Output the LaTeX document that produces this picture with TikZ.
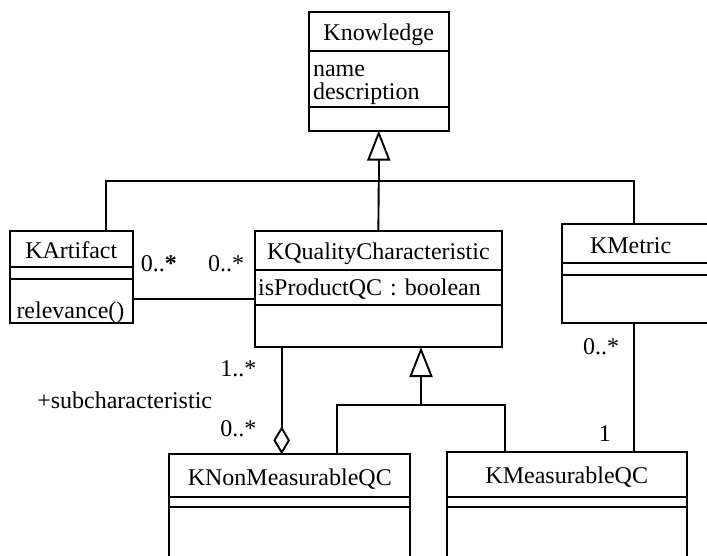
\documentclass[tikz,border=0pt]{standalone}
\usepackage{fontspec}
\setmainfont{Liberation Serif}
\usetikzlibrary{positioning,arrows.meta}

\begin{document}
\begin{tikzpicture}[x=1pt, y=-1pt, font=\fontsize{24}{23.3}\selectfont,
                    line width=1.9pt]
\tikzstyle{cname}=[draw, line width=2pt, outer sep=0pt, inner sep=0pt,
                   text height=19pt, text depth=0pt]
\tikzstyle{cpart}=[draw, line width=2pt, outer sep=0pt, inner sep=0pt]
% compartiment avec du texte aligne a gauche
\tikzstyle{cattr}=[cpart, align=left, text height=15pt, text depth=0pt]
\tikzstyle{mult}=[inner sep=0pt]
\tikzstyle{gen}=[-{Triangle[open, length=30pt, width=23pt]}]
\tikzstyle{agg}=[-{Diamond[open, length=28pt, width=16.6pt]}]

\useasboundingbox (0,0) rectangle (707,555);
\clip (0,0) rectangle (707,555);

% classes
\node[cname, anchor=north west, minimum width=140.5pt, minimum height=38.7pt]
    (know) at (308.5,12) {Knowledge};
\node[cattr, below=0pt of know, minimum height=56.6pt, text width=131.5pt,
      inner xsep=4.5pt, text height=18pt, text depth=24pt]
    (knowattr) {name\\description};
\node[cpart, below=0pt of knowattr, minimum width=140.5pt, minimum height=23.2pt]
    (knowops) {};

\node[cname, anchor=north west, minimum width=122.5pt, minimum height=36.2pt]
    (kart) at (10,230.5) {KArtifact};
\node[cpart, below=0pt of kart, minimum width=122.5pt, minimum height=12.3pt]
    (kartattr) {};
\node[cattr, below=0pt of kartattr, minimum height=44.3pt, text width=109.5pt,
      inner xsep=6.5pt, text height=34pt]
    (kartops) {relevance()};

\node[cname, anchor=north west, minimum width=247.3pt, minimum height=39.3pt]
    (kqc) at (254.7,230.7) {KQualityCharacteristic};
\node[cattr, below=0pt of kqc, minimum height=35pt, text width=240.3pt,
      inner xsep=3.5pt]
    (kqcattr) {isProductQC : boolean};
\node[cpart, below=0pt of kqcattr, minimum width=247.3pt, minimum height=42pt]
    (kqcops) {};

\node[cname, anchor=north west, minimum height=39.2pt, text width=144.6pt,
      inner xsep=27.7pt, align=left, text height=21pt]
    (kmet) at (562.3,223.5) {KMetric};
\node[cpart, below=0pt of kmet, minimum width=200pt, minimum height=12.3pt]
    (kmetattr) {};
\node[cpart, below=0pt of kmetattr, minimum width=200pt, minimum height=47.7pt]
    (kmetops) {};

\node[cname, anchor=north west, minimum width=241pt, minimum height=43pt]
    (knm) at (169.3,454.3) {KNonMeasurableQC};
\node[cpart, below=0pt of knm, minimum width=241pt, minimum height=9.7pt]
    (knmattr) {};
\node[cpart, below=0pt of knmattr, minimum width=241pt, minimum height=60pt]
    (knmops) {};

\node[cname, anchor=north west, minimum width=240.5pt, minimum height=45pt]
    (kms) at (446.5,451.7) {KMeasurableQC};
\node[cpart, below=0pt of kms, minimum width=240.5pt, minimum height=10pt]
    (kmsattr) {};
\node[cpart, below=0pt of kmsattr, minimum width=240.5pt, minimum height=60pt]
    (kmsops) {};

% heritage
\coordinate (gk) at ([yshift=-50.5pt]knowops.south);
\draw[gen] (gk) -- (knowops.south);
\draw (gk) -| ([xshift=34.45pt]kart.north);
\draw (gk) -- (kqc.north);
\draw (gk) -| ([xshift=-28.3pt]kmet.north);

\coordinate (gq) at ([xshift=166.3pt, yshift=-58pt]kqcops.south west);
\draw[gen] (gq) -- (gq |- kqcops.south);
\draw (gq) -| ([xshift=46.9pt]knm.north);
\draw (gq) -| ([xshift=-61.75pt]kms.north);

% associations
\coordinate (ak) at ([yshift=1.8pt]kartops.east);
\draw (ak) -- (ak -| kqcattr.west)
    node[mult, pos=0, anchor=west, xshift=7.5pt, yshift=35.7pt] {0..\textbf{*}}
    node[mult, pos=1, anchor=east, xshift=-9.7pt, yshift=35.7pt] {0..*};

\coordinate (ag) at ([xshift=27pt]kqcops.south west);
\draw[agg] (ag) -- (ag |- knm.north)
    node[mult, pos=0, anchor=east, xshift=-24.4pt, yshift=-21.3pt] {1..*}
    node[mult, pos=1, anchor=east, xshift=-68.7pt, yshift=53.8pt] {+subcharacteristic}
    node[mult, pos=1, anchor=east, xshift=-24.4pt, yshift=26pt] {0..*};

\coordinate (mk) at ([xshift=71.7pt]kmetops.south west);
\draw (mk) -- (mk |- kms.north)
    node[mult, pos=0, anchor=east, xshift=-14pt, yshift=-24pt] {0..*}
    node[mult, pos=1, anchor=east, xshift=-22.3pt, yshift=18.4pt] {1};
\end{tikzpicture}
\end{document}
